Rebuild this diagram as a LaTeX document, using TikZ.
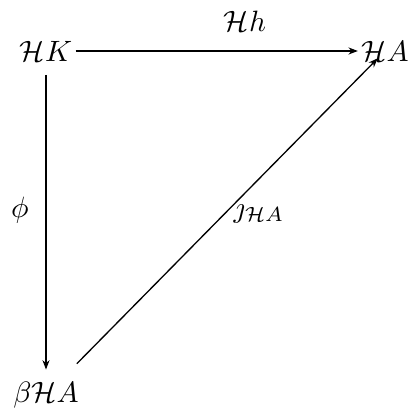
\documentclass[tikz,border=0pt]{standalone}
\usetikzlibrary{arrows.meta}
\begin{document}
\begin{tikzpicture}[x=0.34pt,y=-0.34pt,
  obj/.style={inner sep=1pt},
  lab/.style={inner sep=0pt},
  arr/.style={-{Stealth[length=3.2pt,width=2.4pt]}, line width=0.45pt}]
\useasboundingbox (0,0) rectangle (419,414);
\node[obj] (hk) at (46,51) {$\mathcal{H}K$};
\node[obj] (ha) at (385,51) {$\mathcal{H}A$};
\node[obj] (bha) at (46,395) {$\beta\mathcal{H}A$};
\draw[arr] (hk) -- (ha) node[lab, pos=0.6, above=6.5pt] (lh) {$\mathcal{H}h$};
\draw[arr, shorten <=3.5pt, shorten >=3pt] (hk) -- (bha);
\node[lab] (lphi) at (20,210) {$\phi$};
\draw[arr, shorten <=7pt, shorten >=-3pt] (bha) -- (ha);
\node[lab] (lj) at (259,214) {$\jmath_{\mathcal{H}A}$};
\end{tikzpicture}
\end{document}
